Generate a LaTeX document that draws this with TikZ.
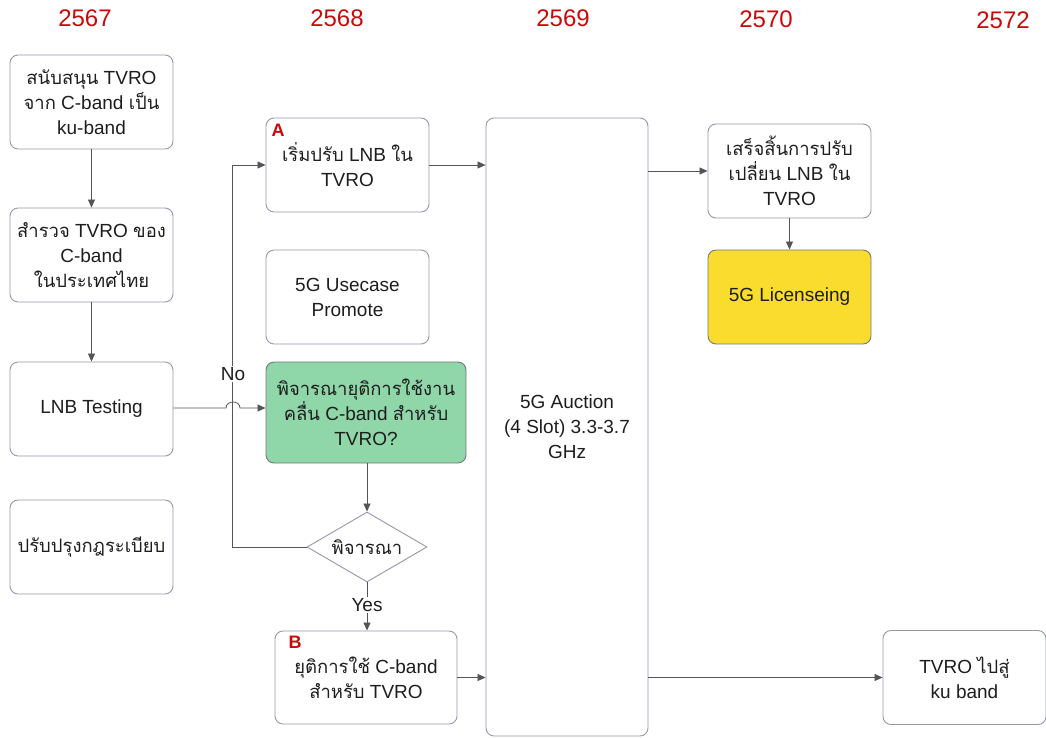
\documentclass[tikz,border=0pt]{standalone}
\usepackage{fontspec}
\setmainfont{Liberation Sans}
\newfontfamily\thaifont[Script=Thai,Scale=0.97]{Loma}
\newcommand\thx[1]{{\thaifont #1}}
\usetikzlibrary{arrows.meta,shapes.geometric}
\definecolor{boxline}{RGB}{150,150,175}
\definecolor{conn}{RGB}{85,85,85}
\definecolor{ink}{RGB}{30,30,30}
\definecolor{yearred}{RGB}{200,10,10}
\definecolor{greenfill}{RGB}{143,214,169}
\definecolor{yellowfill}{RGB}{249,220,46}
\tikzset{
  box/.style={draw=boxline, line width=0.9pt, rounded corners=8pt, fill=white, text=ink,
    align=center, font=\fontsize{19}{25}\selectfont, inner sep=2pt},
  stepbox/.style={box, minimum width=163pt, minimum height=94pt},
  decision/.style={draw=boxline, line width=0.9pt, diamond, fill=white, inner sep=0pt, text=ink,
    aspect=1.7, minimum width=120pt, minimum height=70pt, font=\fontsize{19}{25}\selectfont},
  arr/.style={draw=conn, line width=0.8pt, -{Triangle[length=8pt,width=7pt]}},
  year/.style={text=yearred, font=\fontsize{24}{28}\selectfont},
  tag/.style={text=yearred, font=\bfseries\fontsize{18}{20}\selectfont},
  lbl/.style={fill=white, inner sep=1pt, text=ink, font=\fontsize{19}{22}\selectfont}
}
\begin{document}
\begin{tikzpicture}[x=1pt, y=-1pt]
\useasboundingbox (0,0) rectangle (1046,737);

% year headings
\node[year] (y67) at (85,18) {2567};
\node[year] (y68) at (337,18) {2568};
\node[year] (y69) at (563,18) {2569};
\node[year] (y70) at (766,19) {2570};
\node[year] (y72) at (1003,20) {2572};

% column 2567
\node[stepbox] (support) at (91.5,102) {\thx{สนับสนุน} TVRO\\ \thx{จาก} C-band \thx{เป็น}\\ ku-band};
\node[stepbox] (survey) at (91.5,255) {\thx{สำรวจ} TVRO \thx{ของ}\\ C-band\\ \thx{ในประเทศไทย}};
\node[stepbox] (lnb) at (91.5,409) {LNB Testing};
\node[stepbox] (rules) at (91.5,547) {\thx{ปรับปรุงกฎระเบียบ}};

% column 2568
\node[stepbox] (startA) at (347.5,165) {\thx{เริ่มปรับ} LNB \thx{ใน}\\ TVRO};
\node[tag] (tagA) at (278,130) {A};
\node[stepbox] (usecase) at (347.5,297) {5G Usecase\\ Promote};
\node[box, fill=greenfill, draw=conn!80, minimum width=200pt, minimum height=101pt] (consider) at (366,412.5)
  {\thx{พิจารณายุติการใช้งาน}\\ \thx{คลื่น} C-band \thx{สำหรับ}\\ TVRO?};
\node[decision] (dia) at (367,547) {\thx{พิจารณา}};
\node[box, minimum width=182pt, minimum height=93pt] (stopB) at (366,677.5)
  {\thx{ยุติการใช้} C-band\\ \thx{สำหรับ} TVRO};
\node[tag] (tagB) at (295,642) {B};

% column 2569
\node[box, minimum width=162pt, minimum height=618pt] (auction) at (567,427)
  {5G Auction\\ (4 Slot) 3.3-3.7\\ GHz};

% column 2570
\node[stepbox] (done) at (789.5,171) {\thx{เสร็จสิ้นการปรับ}\\ \thx{เปลี่ยน} LNB \thx{ใน}\\ TVRO};
\node[box, fill=yellowfill, draw=conn!80, minimum width=163pt, minimum height=94pt] (license) at (789.5,297) {5G Licenseing};

% column 2572
\node[stepbox] (ku) at (964.5,677.5) {TVRO \thx{ไปสู่}\\ ku band};

% connectors
\draw[arr] (support) -- (survey);
\draw[arr] (survey) -- (lnb);
\coordinate (hopL) at (226,408);
\coordinate (hopR) at (240,408);
\draw[arr] (lnb.east |- hopL) -- (hopL) .. controls (226,400) and (240,400) .. (hopR) -- (consider.west |- hopR);
\draw[arr] (consider.south -| dia.north) -- (dia.north);
\draw[arr] (dia.west) -- ++(-74,0) |- (startA.west);
\node[lbl] (no) at (233,374) {No};
\draw[arr] (dia.south) -- (stopB.north -| dia.south);
\node[lbl] (yes) at (367,605) {Yes};
\draw[arr] (startA.east) -- (startA.east -| auction.west);
\draw[arr] (stopB.east) -- (stopB.east -| auction.west);
\draw[arr] (auction.east |- done.west) -- (done.west);
\draw[arr] (done) -- (license);
\draw[arr] (auction.east |- ku.west) -- (ku.west);
\end{tikzpicture}
\end{document}
